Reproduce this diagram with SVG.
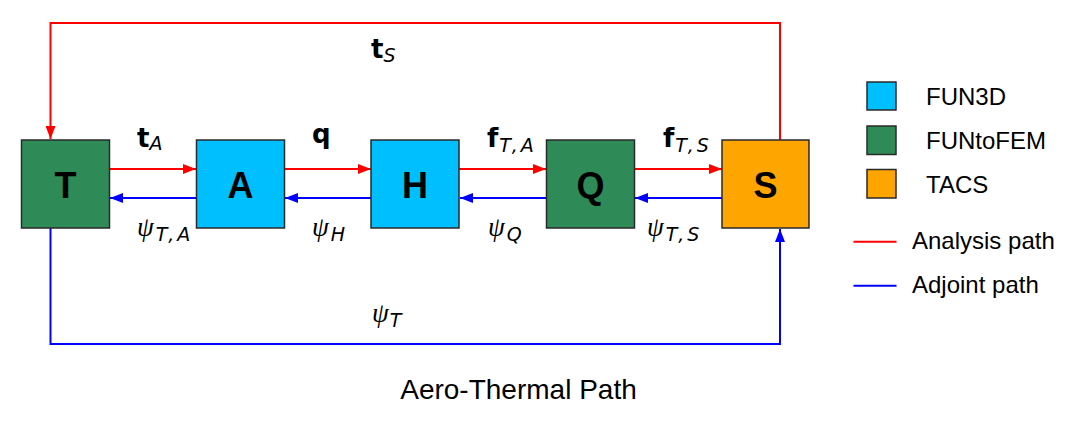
<svg xmlns="http://www.w3.org/2000/svg" width="1067" height="424" viewBox="0 0 1067 424">
<style>
.node{stroke:#2a2a2a;stroke-width:1.5}
.lbl{font-family:"Liberation Sans",Arial,sans-serif;font-weight:bold;font-size:36px;text-anchor:middle}
.r{stroke:#ff0000;stroke-width:2;fill:none}
.b{stroke:#0000ff;stroke-width:2;fill:none}
.m{font-family:"DejaVu Sans","Liberation Sans",sans-serif;font-size:26px;font-weight:bold}
.psi{font-family:"Liberation Serif",serif;font-style:italic;font-size:27px}
.sub{font-family:"DejaVu Sans","Liberation Sans",sans-serif;font-style:italic;font-weight:normal;font-size:19px}
.sp{letter-spacing:3px}
.leg{font-family:"Liberation Sans",Arial,sans-serif;font-size:24px}
.title{font-family:"Liberation Sans",Arial,sans-serif;font-size:28px;text-anchor:middle}
</style>
<defs>
<marker id="ar" viewBox="0 0 13 10" refX="13" refY="5" markerWidth="13" markerHeight="10" markerUnits="userSpaceOnUse" orient="auto"><path d="M0,0 L13,5 L0,10 Z" fill="#ff0000"/></marker>
<marker id="ab" viewBox="0 0 13 10" refX="13" refY="5" markerWidth="13" markerHeight="10" markerUnits="userSpaceOnUse" orient="auto"><path d="M0,0 L13,5 L0,10 Z" fill="#0000ff"/></marker>
</defs>
<g id="connectors">
<path class="r" d="M780,140 V23 H50.5 V139" marker-end="url(#ar)"/>
<path class="b" d="M50.5,228 V344 H780 V229" marker-end="url(#ab)"/>
<line class="r" x1="109.5" y1="169" x2="196" y2="169" marker-end="url(#ar)"/>
<line class="r" x1="284.5" y1="169" x2="371" y2="169" marker-end="url(#ar)"/>
<line class="r" x1="459" y1="169" x2="546" y2="169" marker-end="url(#ar)"/>
<line class="r" x1="634.5" y1="169" x2="722" y2="169" marker-end="url(#ar)"/>
<line class="b" x1="196" y1="198" x2="110" y2="198" marker-end="url(#ab)"/>
<line class="b" x1="371" y1="198" x2="285" y2="198" marker-end="url(#ab)"/>
<line class="b" x1="546" y1="198" x2="460" y2="198" marker-end="url(#ab)"/>
<line class="b" x1="722" y1="198" x2="635" y2="198" marker-end="url(#ab)"/>
<text class="m" x="371" y="58">t<tspan class="sub" dy="4">S</tspan></text>
<text class="m" x="137" y="147">t<tspan class="sub" dy="3">A</tspan></text>
<text class="m" x="312" y="143">q</text>
<text class="m" x="487" y="147">f<tspan class="sub sp" dy="5" dx="1">T,A</tspan></text>
<text class="m" x="663" y="147">f<tspan class="sub sp" dy="5" dx="1">T,S</tspan></text>
<text class="psi" x="137" y="236">ψ<tspan class="sub sp" dy="5" dx="2">T,A</tspan></text>
<text class="psi" x="312" y="236">ψ<tspan class="sub" dy="5" dx="2">H</tspan></text>
<text class="psi" x="488" y="236">ψ<tspan class="sub" dy="5" dx="2">Q</tspan></text>
<text class="psi" x="647" y="236">ψ<tspan class="sub sp" dy="5" dx="2">T,S</tspan></text>
<text class="psi" x="372" y="322">ψ<tspan class="sub" dy="5" dx="1">T</tspan></text>
</g>
<g id="T"><rect class="node" x="21.5" y="140" width="88" height="88" fill="#2e8b57"/><text class="lbl" x="65.5" y="198">T</text></g>
<g id="A"><rect class="node" x="196.5" y="140" width="88" height="88" fill="#00bfff"/><text class="lbl" x="240.5" y="198">A</text></g>
<g id="H"><rect class="node" x="371" y="140" width="88" height="88" fill="#00bfff"/><text class="lbl" x="415" y="198">H</text></g>
<g id="Q"><rect class="node" x="546.5" y="140" width="88" height="88" fill="#2e8b57"/><text class="lbl" x="590.5" y="198">Q</text></g>
<g id="S"><rect class="node" x="722" y="140" width="87" height="88" fill="#ffa500"/><text class="lbl" x="765.5" y="198">S</text></g>
<g id="legend">
<rect class="node" x="867" y="82" width="29" height="28" fill="#00bfff"/>
<rect class="node" x="867" y="126" width="29" height="28.5" fill="#2e8b57"/>
<rect class="node" x="867" y="169.5" width="29" height="28.5" fill="#ffa500"/>
<text class="leg" x="926" y="105">FUN3D</text>
<text class="leg" x="926" y="148.5">FUNtoFEM</text>
<text class="leg" x="926" y="192.5">TACS</text>
<line class="r" x1="853.5" y1="241.7" x2="896.5" y2="241.7"/>
<line class="b" x1="853.5" y1="285.7" x2="896.5" y2="285.7"/>
<text class="leg" x="912" y="249">Analysis path</text>
<text class="leg" x="912" y="292.7">Adjoint path</text>
</g>
<text class="title" x="518.5" y="399">Aero-Thermal Path</text>
</svg>
